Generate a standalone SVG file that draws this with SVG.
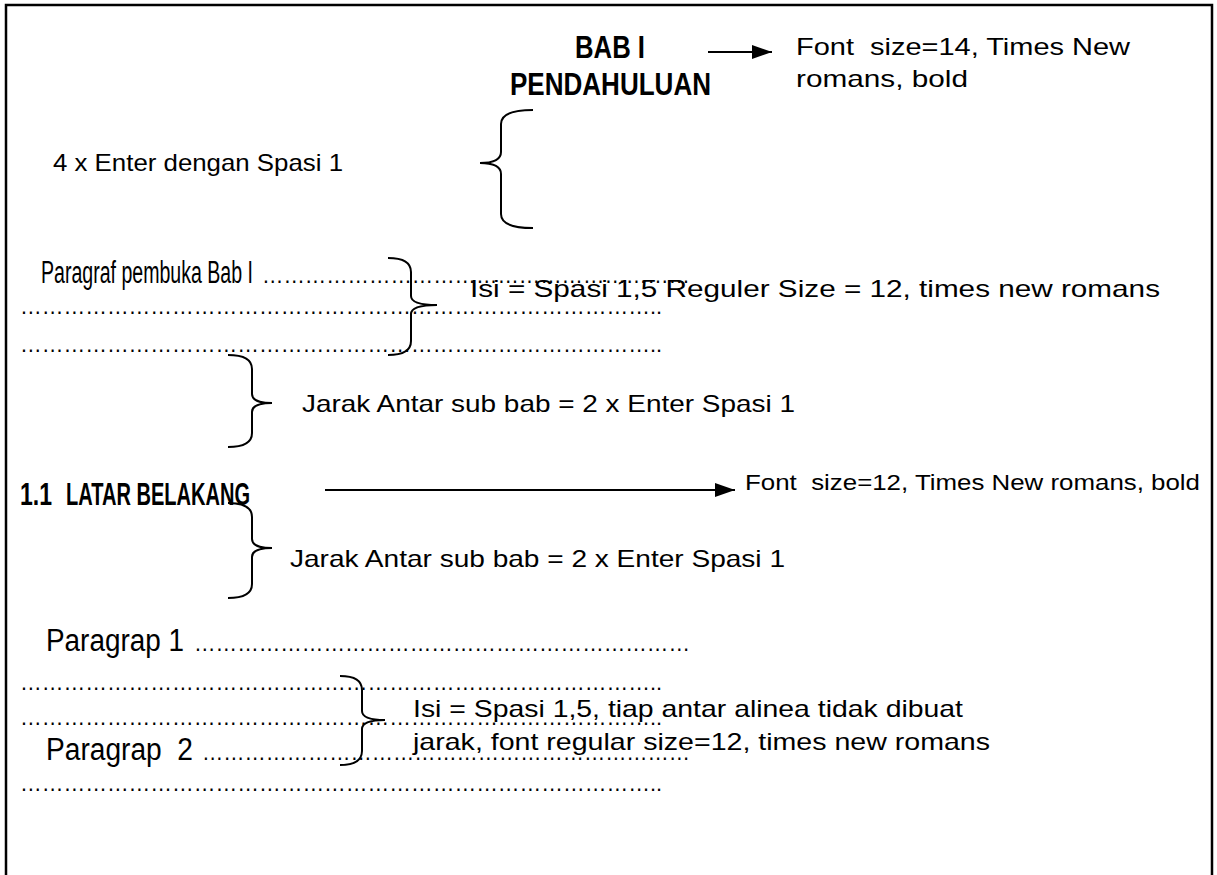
<svg xmlns="http://www.w3.org/2000/svg" width="1217" height="875" viewBox="0 0 1217 875">
<style>
.t{font-family:"Liberation Sans",Arial,sans-serif;font-size:24px;fill:#000}
.n{font-family:"Liberation Sans",Arial,sans-serif;font-size:31px;fill:#000}
.h{font-family:"Liberation Sans",Arial,sans-serif;font-size:31px;font-weight:bold;fill:#000}
.d{font-family:"Liberation Sans",Arial,sans-serif;font-size:22px;fill:#000}
.br{fill:none;stroke:#000;stroke-width:2}
.ln{stroke:#000;stroke-width:2;fill:none}
</style>
<defs>
<marker id="ah2" viewBox="0 0 20 14" refX="20" refY="7" markerWidth="20" markerHeight="14" markerUnits="userSpaceOnUse" orient="auto">
<path d="M0,0 L20,7 L0,14 z" fill="#000"/>
</marker>
</defs>
<rect x="0" y="0" width="1217" height="875" fill="#fff"/>
<path d="M6,880 V5 H1212 V880" fill="none" stroke="#000" stroke-width="2.5"/>

<g id="judul">
<text class="h" x="575" y="58" textLength="70" lengthAdjust="spacingAndGlyphs">BAB I</text>
<text class="h" x="510" y="95" textLength="201" lengthAdjust="spacingAndGlyphs">PENDAHULUAN</text>
</g>
<g id="ket-judul">
<text class="t" x="796" y="55" textLength="334" lengthAdjust="spacingAndGlyphs" xml:space="preserve">Font  size=14, Times New</text>
<text class="t" x="796" y="87" textLength="172" lengthAdjust="spacingAndGlyphs">romans, bold</text>
</g>
<g id="ket-enter">
<text class="t" x="53" y="171" textLength="290" lengthAdjust="spacingAndGlyphs">4 x Enter dengan Spasi 1</text>
</g>
<g id="paragraf-pembuka">
<text class="n" x="41" y="283" textLength="212" lengthAdjust="spacingAndGlyphs">Paragraf pembuka Bab I</text>
<text class="d" x="262" y="283" textLength="428" lengthAdjust="spacingAndGlyphs">……………………………………………………</text>
<text class="d" x="20" y="314" textLength="642" lengthAdjust="spacingAndGlyphs">……………………………………………………………………………..</text>
<text class="d" x="20" y="352" textLength="642" lengthAdjust="spacingAndGlyphs">……………………………………………………………………………..</text>
</g>
<g id="ket-isi">
<text class="t" x="470" y="297" textLength="690" lengthAdjust="spacingAndGlyphs">Isi = Spasi 1,5 Reguler Size = 12, times new romans</text>
</g>
<g id="ket-jarak1">
<text class="t" x="302" y="412" textLength="493" lengthAdjust="spacingAndGlyphs">Jarak Antar sub bab = 2 x Enter Spasi 1</text>
</g>
<g id="subbab">
<text class="h" x="20" y="505" textLength="32" lengthAdjust="spacingAndGlyphs">1.1</text>
<text class="h" x="66" y="505" textLength="184" lengthAdjust="spacingAndGlyphs">LATAR BELAKANG</text>
</g>
<g id="ket-subbab">
<text class="d" x="745" y="490" textLength="455" lengthAdjust="spacingAndGlyphs" xml:space="preserve">Font  size=12, Times New romans, bold</text>
</g>
<g id="ket-jarak2">
<text class="t" x="290" y="567" textLength="495" lengthAdjust="spacingAndGlyphs">Jarak Antar sub bab = 2 x Enter Spasi 1</text>
</g>
<g id="paragrap">
<text class="n" x="46" y="651" textLength="138" lengthAdjust="spacingAndGlyphs">Paragrap 1</text>
<text class="d" x="194" y="651" textLength="496" lengthAdjust="spacingAndGlyphs">……………………………………………………………</text>
<text class="d" x="20" y="690" textLength="642" lengthAdjust="spacingAndGlyphs">……………………………………………………………………………..</text>
<text class="d" x="20" y="725" textLength="642" lengthAdjust="spacingAndGlyphs">……………………………………………………………………………..</text>
<text class="n" x="46" y="760" textLength="147" lengthAdjust="spacingAndGlyphs" xml:space="preserve">Paragrap  2</text>
<text class="d" x="202" y="760" textLength="488" lengthAdjust="spacingAndGlyphs">……………………………………………………………</text>
<text class="d" x="20" y="791" textLength="642" lengthAdjust="spacingAndGlyphs">……………………………………………………………………………..</text>
</g>
<g id="ket-paragrap">
<text class="t" x="413" y="717" textLength="550" lengthAdjust="spacingAndGlyphs">Isi = Spasi 1,5, tiap antar alinea tidak dibuat</text>
<text class="t" x="413" y="750" textLength="577" lengthAdjust="spacingAndGlyphs">jarak, font regular size=12, times new romans</text>
</g>

<g id="connectors">
<line class="ln" x1="708" y1="52" x2="772" y2="52" marker-end="url(#ah2)"/>
<line class="ln" x1="325" y1="490" x2="735" y2="490" marker-end="url(#ah2)"/>
<path class="br" d="M533,110 Q501,110 501,124 V152 Q501,163 480,163 Q501,163 501,174 V214 Q501,228 533,228"/>
<path class="br" d="M388,258 Q411,258 411,272 V296 Q411,305 437,305 Q411,305 411,314 V341 Q411,355 388,355"/>
<path class="br" d="M228,355 Q252,355 252,369 V394 Q252,403 272,403 Q252,403 252,412 V433 Q252,447 228,447"/>
<path class="br" d="M228,503 Q252,503 252,517 V539 Q252,548 272,548 Q252,548 252,557 V584 Q252,598 228,598"/>
<path class="br" d="M340,676 Q362,676 362,690 V711 Q362,720 385,720 Q362,720 362,729 V751 Q362,765 340,765"/>
</g>
</svg>
